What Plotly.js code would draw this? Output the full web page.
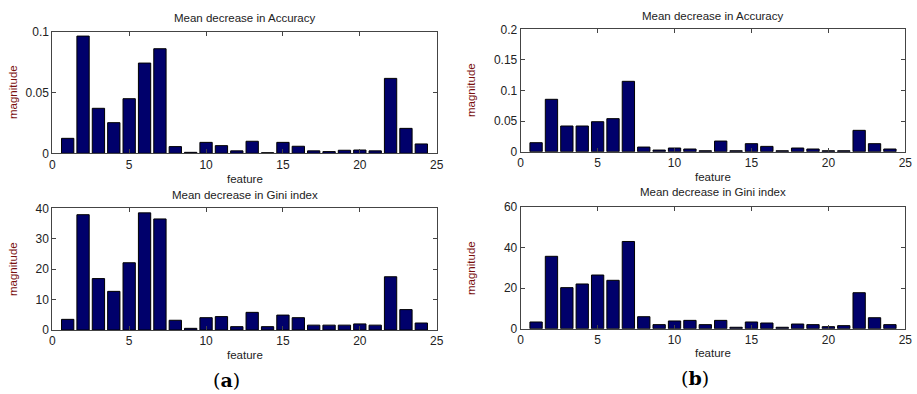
<!DOCTYPE html>
<html>
<head>
<meta charset="utf-8">
<script src="https://cdn.plot.ly/plotly-3.0.1.min.js"></script>
<style>html,body{margin:0;padding:0;background:#fff;}#chart{width:917px;height:394px;}</style>
</head>
<body>
<div id="chart"></div>
<script>
const features = [1,2,3,4,5,6,7,8,9,10,11,12,13,14,15,16,17,18,19,20,21,22,23,24];
const accA = [0.0123,0.0964,0.037,0.0252,0.0449,0.0742,0.086,0.0055,0.0008,0.009,0.0063,0.002,0.0099,0.0005,0.009,0.0058,0.002,0.0014,0.0025,0.0027,0.002,0.0616,0.0205,0.0077];
const giniA = [3.5,37.9,16.9,12.7,22.1,38.5,36.5,3.2,0.55,4.05,4.4,1.1,5.8,1.1,4.9,4.05,1.6,1.6,1.6,2.0,1.6,17.5,6.7,2.3];
const accB = [0.0147,0.0856,0.042,0.042,0.049,0.054,0.115,0.0076,0.0027,0.006,0.0044,0.0016,0.0174,0.0016,0.0131,0.0087,0.0016,0.006,0.0044,0.0016,0.0016,0.0349,0.0131,0.0044];
const giniB = [3.3,35.6,20.2,22.0,26.4,23.8,42.9,5.9,2.0,3.8,4.1,2.0,4.1,0.7,3.3,2.8,0.7,2.3,2.0,1.0,1.5,17.7,5.4,2.0];
const titleAcc = "Mean decrease in Accuracy";
const titleGini = "Mean decrease in Gini index";
const xLabel = "feature";
const yLabel = "magnitude";

const W = 917, H = 394;
const FONT = "Arial, 'Liberation Sans', sans-serif";
const px = v => v / W;
const py = v => 1 - v / H;

function bar(y, xa, ya) {
  return {type:'bar', x: features, y: y, xaxis: xa, yaxis: ya, width: 0.8,
    marker:{color:'#00006b', line:{color:'#000', width:1}}, hoverinfo:'x+y'};
}
const data = [bar(accA,'x','y'), bar(giniA,'x2','y2'), bar(accB,'x3','y3'), bar(giniB,'x4','y4')];

function xax(domain, anchor) {
  return {domain: domain, anchor: anchor, range:[0,25], dtick:5, tick0:0,
    showline:true, mirror:'ticks', linecolor:'#444', linewidth:1,
    ticks:'inside', ticklen:4, tickcolor:'#444', showgrid:false, zeroline:false,
    tickfont:{family:FONT, size:12, color:'#222'}, fixedrange:true};
}
function yax(domain, anchor, range, dtick) {
  return {domain: domain, anchor: anchor, range: range, dtick: dtick, tick0:0,
    showline:true, mirror:'ticks', linecolor:'#444', linewidth:1,
    ticks:'inside', ticklen:4, tickcolor:'#444', showgrid:false, zeroline:false,
    tickfont:{family:FONT, size:12, color:'#222'}, fixedrange:true};
}
const xA = [px(52.3), px(436.7)], xB = [px(520.7), px(905.3)];
const layout = {
  width: W, height: H, margin:{l:0,r:0,t:0,b:0}, showlegend:false,
  paper_bgcolor:'#fff', plot_bgcolor:'#fff', bargap:0.2,
  xaxis: xax(xA,'y'), yaxis: yax([py(153.3), py(31.7)], 'x', [0,0.1], 0.05),
  xaxis2: xax(xA,'y2'), yaxis2: yax([py(330), py(208.3)], 'x2', [0,40], 10),
  xaxis3: xax(xB,'y3'), yaxis3: yax([py(151.7), py(29.3)], 'x3', [0,0.2], 0.05),
  xaxis4: xax(xB,'y4'), yaxis4: yax([py(328.7), py(206.7)], 'x4', [0,60], 20),
  annotations: []
};
function ann(text, x, y, opts) {
  layout.annotations.push(Object.assign({text: text, xref:'paper', yref:'paper', x: px(x), y: py(y),
    showarrow:false, xanchor:'center', yanchor:'middle',
    font:{family:FONT, size:11.5, color:'#222'}}, opts || {}));
}
const cA = (52.3+436.7)/2, cB = (520.7+905.3)/2;
ann(titleAcc, cA, 18); ann(titleGini, cA, 195);
ann(titleAcc, cB, 16); ann(titleGini, cB, 192);
ann(xLabel, cA, 179); ann(xLabel, cA, 355);
ann(xLabel, cB, 177); ann(xLabel, cB, 353);
const yl = {textangle:-90, font:{family:FONT, size:11.5, color:'#7a1010'}};
ann(yLabel, 13, 92, yl); ann(yLabel, 13, 269, yl);
ann(yLabel, 471, 90, yl); ann(yLabel, 471, 268, yl);
const pl = {font:{family:"'DejaVu Serif', 'Liberation Serif', serif", size:19, color:'#000'}};
ann("(<b>a</b>)", 226.5, 380, pl);
ann("(<b>b</b>)", 695, 378, pl);

Plotly.newPlot('chart', data, layout, {displayModeBar:false, staticPlot:true});
</script>
</body>
</html>
